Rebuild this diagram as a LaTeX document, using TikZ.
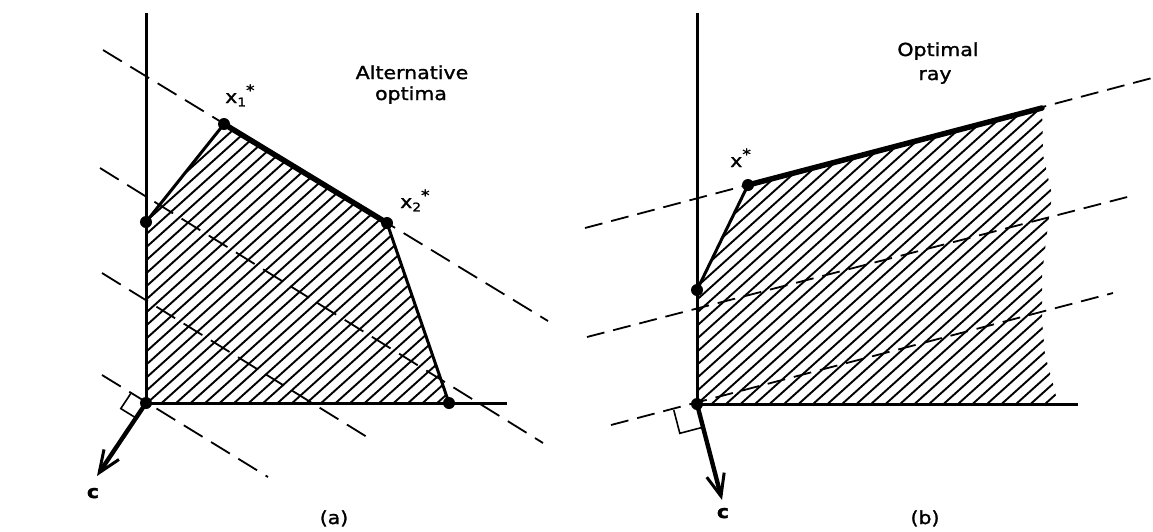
\documentclass[tikz,border=0pt]{standalone}
\usepackage{fontspec}
\setmainfont{DejaVu Sans}[FakeStretch=1.14, FakeBold=1.4]
\usetikzlibrary{arrows.meta}
\tikzset{
  axis/.style={line width=3pt},
  edge/.style={line width=3pt, line join=round},
  optedge/.style={line width=5.5pt, line cap=round},
  hatchline/.style={line width=1.9pt},
  dashA/.style={line width=1.8pt, dash pattern=on 22pt off 10pt},
  dashB/.style={line width=1.8pt, dash pattern=on 18pt off 9pt},
  vertexdot/.style={circle, fill=black, inner sep=0pt, minimum size=12pt},
  cvec/.style={line width=4.4pt, -{Straight Barb[length=22pt,width=18pt,line width=3pt]}},
  rightmark/.style={line width=1.6pt},
  lbl/.style={anchor=base, inner sep=0pt, font=\fontsize{18}{21}\selectfont},
  sublbl/.style={anchor=base west, inner sep=0pt, font=\fontsize{18}{21}\selectfont},
  boldlbl/.style={anchor=base, inner sep=0pt, font=\fontsize{18}{21}\selectfont\bfseries},
}
\newcommand{\subsup}[2]{x\raisebox{-0.35ex}{\fontsize{12}{14}\selectfont #1}\raisebox{0.75ex}{\fontsize{15}{15}\selectfont *}}
\begin{document}
\begin{tikzpicture}[x=1pt,y=-1pt]
\useasboundingbox (0,0) rectangle (1153,531);
\fill[white] (0,0) rectangle (1153,531);

% ================= panel (a) =================
\coordinate (aO) at (146,403);
\coordinate (aA) at (146,222);
\coordinate (aX1) at (224,124);
\coordinate (aX2) at (387,223);
\coordinate (aB) at (449,403);
\coordinate (aYtop) at (146,13);
\coordinate (aXend) at (507,403);
\coordinate (aC) at (97,476);

% hatching
\begin{scope}
  \clip (aO) -- (aA) -- (aX1) -- (aX2) -- (aB) -- cycle;
  \foreach \i in {0,...,40} {
    \draw[hatchline] ({146+(\i-17)*14.5-59.4},457.5) -- ++(520,-468);
  }
\end{scope}

% dashed iso-lines
\coordinate (aL1s) at (103,50);  \coordinate (aL1e) at (548,321);
\coordinate (aL2s) at (100,168); \coordinate (aL2e) at (543,443);
\coordinate (aL3s) at (102,273); \coordinate (aL3e) at (367,437);
\coordinate (aL4s) at (102,375); \coordinate (aL4e) at (268,477);
\draw[dashA] (aL1s) -- (aL1e);
\draw[dashA] (aL2s) -- (aL2e);
\draw[dashA] (aL3s) -- (aL3e);
\draw[dashA] (aL4s) -- (aL4e);

% axes and polygon
\draw[axis] (aYtop) -- (aO) -- (aXend);
\draw[edge] (aA) -- (aX1);
\draw[edge] (aX2) -- (aB);
\draw[optedge] (aX1) -- (aX2);

% right angle mark
\draw[rightmark] (130.7,393.6) -- (120.8,408.6) -- (136.1,418.0);

% objective vector
\draw[cvec] (aO) -- (aC);

% dots
\node[vertexdot] (daO) at (aO) {};
\node[vertexdot] (daA) at (aA) {};
\node[vertexdot] (daX1) at (aX1) {};
\node[vertexdot] (daX2) at (aX2) {};
\node[vertexdot] (daB) at (aB) {};

% labels
\node[lbl] (altA) at (412,79) {Alternative};
\node[lbl] (altB) at (411,100) {optima};
\node[sublbl] (lx1) at (225,103) {\subsup{1}{*}};
\node[sublbl] (lx2) at (400,208) {\subsup{2}{*}};
\node[boldlbl] (lca) at (93,498) {c};
\node[lbl] (capa) at (334,524) {(a)};

% ================= panel (b) =================
\coordinate (bO) at (697,404);
\coordinate (bA) at (697,290);
\coordinate (bX) at (748,185);
\coordinate (bR) at (1042,108);
\coordinate (bYtop) at (697,13);
\coordinate (bXend) at (1078,404);
\coordinate (bC) at (722,500);

\begin{scope}
  \clip (bO) -- (bA) -- (bX) -- (bR) -- (1043,155) -- (1052,195) -- (1048,225)
        -- (1042,275) -- (1042,320) -- (1045,355) -- (1052,380) -- (1058,404) -- cycle;
  \foreach \i in {0,...,42} {
    \draw[hatchline] ({697+(\i-15)*14.5-59.4},457.5) -- ++(520,-468);
  }
\end{scope}

\coordinate (bM1s) at (585,228);  \coordinate (bM1e) at (1152,78);
\coordinate (bM2s) at (587,337);  \coordinate (bM2e) at (1135,195);
\coordinate (bM3s) at (611,425);  \coordinate (bM3e) at (1113,293);
\draw[dashB] (bM1s) -- (bM1e);
\draw[dashB] (bM2s) -- (bM2e);
\draw[dashB] (bM3s) -- (bM3e);

\draw[axis] (bYtop) -- (bO) -- (bXend);
\draw[edge] (bA) -- (bX);
\draw[optedge] (bX) -- (bR);

\draw[rightmark] (673.8,410.1) -- (679.8,433.3) -- (703,427.2);

\draw[cvec] (bO) -- (bC);

\node[vertexdot] (dbO) at (bO) {};
\node[vertexdot] (dbA) at (bA) {};
\node[vertexdot] (dbX) at (bX) {};

\node[lbl] (optA) at (938,56) {Optimal};
\node[lbl] (optB) at (935,80) {ray};
\node[sublbl] (lxs) at (730,167) {x\raisebox{0.75ex}{\fontsize{15}{15}\selectfont *}};
\node[boldlbl] (lcb) at (723,518) {c};
\node[lbl] (capb) at (925,524) {(b)};
\end{tikzpicture}
\end{document}
